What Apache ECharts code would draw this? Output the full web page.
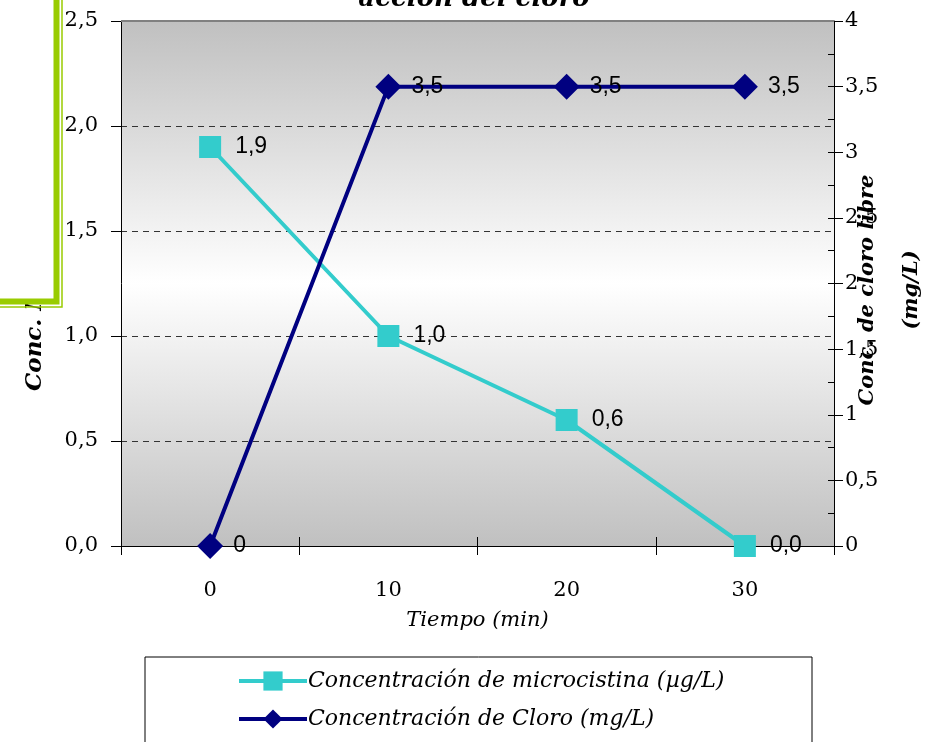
<!DOCTYPE html>
<html>
<head>
<meta charset="utf-8">
<title>Microcistina y cloro</title>
<script src="https://cdn.jsdelivr.net/npm/echarts@6/dist/echarts.min.js"></script>
<style>
    html, body { margin: 0; padding: 0; background: #fff; }
    #chart { width: 945px; height: 742px; }
</style>
</head>
<body>
<div id="chart"></div>
<script>
// datos
var tiempos = ['0', '10', '20', '30'];
var microcistina = [1.9, 1.0, 0.6, 0.0];
var cloro = [0, 3.5, 3.5, 3.5];
var nombreMicro = 'Concentración de microcistina (µg/L)';
var nombreCloro = 'Concentración de Cloro (mg/L)';

var serif = '"DejaVu Serif", "Liberation Serif", serif';
var sans = '"Liberation Sans", Arial, sans-serif';

var coma = function (v, d) {
    return (d === undefined ? String(v) : v.toFixed(d)).replace('.', ',');
};

var chart = echarts.init(document.getElementById('chart'));

var fondo = new echarts.graphic.LinearGradient(0, 0, 0, 1, [
    {offset: 0, color: '#c0c0c0'},
    {offset: 0.5, color: '#ffffff'},
    {offset: 1, color: '#c0c0c0'}
]);

var option = {
    backgroundColor: '#ffffff',
    animation: false,
    title: {
        text: 'acción del cloro',
        left: 474,
        textAlign: 'center',
        top: -14,
        padding: 0,
        textStyle: {fontFamily: serif, fontSize: 26, fontWeight: 'bold', fontStyle: 'italic', color: '#000'}
    },
    grid: {
        left: 121, right: 111, top: 21, bottom: 196,
        outerBoundsMode: 'none',
        show: true,
        backgroundColor: fondo,
        borderWidth: 0
    },
    legend: {
        orient: 'vertical',
        left: 232,
        top: 665,
        itemGap: 16,
        itemWidth: 68,
        itemHeight: 24,
        lineStyle: {width: 4},
        data: [nombreMicro, nombreCloro],
        textStyle: {fontFamily: serif, fontSize: 22, fontStyle: 'italic', color: '#000', padding: [0, 0, 0, -4]}
    },
    xAxis: [{
        type: 'category',
        data: tiempos,
        boundaryGap: true,
        name: 'Tiempo (min)',
        nameLocation: 'middle',
        nameGap: 64,
        nameTextStyle: {fontFamily: serif, fontSize: 21, fontStyle: 'italic', color: '#000'},
        axisLine: {lineStyle: {color: '#000', width: 1}},
        axisTick: {show: true, length: 9, lineStyle: {color: '#000'}},
        axisLabel: {margin: 34, fontFamily: serif, fontSize: 21, color: '#000'}
    }, {
        // marcas hacia dentro (cruzadas)
        type: 'category',
        data: tiempos,
        position: 'bottom',
        offset: 0,
        axisLine: {show: false},
        axisTick: {show: true, inside: true, length: 9, lineStyle: {color: '#000'}},
        axisLabel: {show: false}
    }],
    yAxis: [{
        type: 'value',
        min: 0, max: 2.5, interval: 0.5,
        position: 'left',
        axisLine: {show: true, lineStyle: {color: '#000'}},
        axisTick: {show: true, length: 10, lineStyle: {color: '#000'}},
        axisLabel: {
            margin: 23, fontFamily: serif, fontSize: 21, color: '#000',
            formatter: function (v) { return coma(v, 1); }
        },
        splitLine: {show: true, lineStyle: {color: '#333', type: [6, 5], width: 1}}
    }, {
        type: 'value',
        min: 0, max: 4, interval: 0.5,
        position: 'right',
        axisLine: {show: true, lineStyle: {color: '#000'}},
        axisTick: {show: true, length: 9, lineStyle: {color: '#000'}},
        axisLabel: {
            margin: 11, fontFamily: serif, fontSize: 21, color: '#000',
            formatter: function (v) { return coma(v); }
        },
        splitLine: {show: false}
    }, {
        // marcas interiores del eje derecho
        type: 'value',
        min: 0, max: 4, interval: 0.5,
        position: 'right',
        offset: 0,
        axisLine: {show: false},
        axisTick: {show: true, inside: true, length: 6, lineStyle: {color: '#000'}},
        minorTick: {show: true, splitNumber: 2, length: 6, lineStyle: {color: '#000'}},
        axisLabel: {show: false},
        splitLine: {show: false}
    }],
    series: [{
        name: nombreMicro,
        type: 'line',
        yAxisIndex: 0,
        data: microcistina,
        symbol: 'rect',
        symbolSize: 22,
        itemStyle: {color: '#33cccc'},
        lineStyle: {color: '#33cccc', width: 4},
        label: {
            show: true, position: 'right', distance: 14,
            fontFamily: sans, fontSize: 23, color: '#000',
            formatter: function (p) { return coma(p.value, 1); }
        },
        z: 3
    }, {
        name: nombreCloro,
        type: 'line',
        yAxisIndex: 1,
        data: cloro,
        symbol: 'diamond',
        symbolSize: [26, 26],
        itemStyle: {color: '#000080'},
        lineStyle: {color: '#000080', width: 4},
        label: {
            show: true, position: 'right', distance: 10,
            fontFamily: sans, fontSize: 23, color: '#000',
            formatter: function (p) { return coma(p.value); }
        },
        z: 4
    }],
    graphic: [{
        // borde superior del area
        type: 'line',
        shape: {x1: 121, y1: 21, x2: 834, y2: 21},
        style: {stroke: '#808080', lineWidth: 2},
        z: 5
    }, {
        // titulo del eje derecho (se monta sobre las etiquetas, como en el original)
        type: 'text',
        x: 890, y: 290,
        rotation: Math.PI / 2,
        style: {
            text: 'Conc. de cloro libre\n(mg/L)',
            fontFamily: serif, fontSize: 21, fontWeight: 'bold', fontStyle: 'italic',
            lineHeight: 44,
            fill: '#000', textAlign: 'center', textVerticalAlign: 'middle'
        },
        z: 5
    }, {
        type: 'text',
        x: 35, y: 391,
        rotation: Math.PI / 2,
        style: {
            text: 'Conc. Microcistina (µg/L)',
            fontFamily: serif, fontSize: 23, fontWeight: 'bold', fontStyle: 'italic',
            fill: '#000', textAlign: 'left', textVerticalAlign: 'middle'
        },
        z: 5
    }, {
        type: 'rect',
        shape: {x: -20, y: -20, width: 76.5, height: 321.5},
        style: {fill: '#ffffff', stroke: '#99cc00', lineWidth: 6},
        z: 10
    }, {
        type: 'rect',
        shape: {x: -20, y: -20, width: 82, height: 327},
        style: {fill: null, stroke: '#99cc00', lineWidth: 1.5},
        z: 10
    }, {
        // caja de la leyenda
        type: 'rect',
        shape: {x: 145, y: 657, width: 667, height: 110},
        style: {fill: null, stroke: '#000', lineWidth: 1},
        z: 1
    }]
};

chart.setOption(option);
</script>
</body>
</html>
